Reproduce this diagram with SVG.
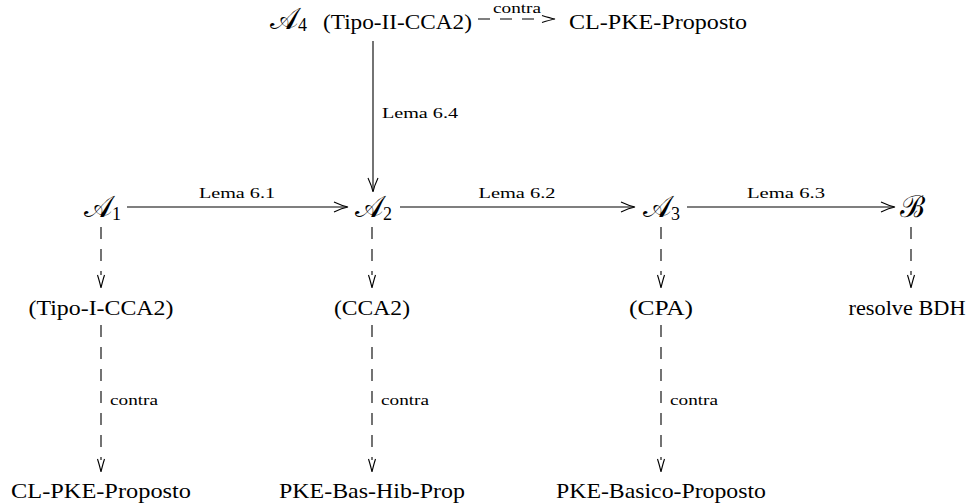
<svg xmlns="http://www.w3.org/2000/svg" width="978" height="504" viewBox="0 0 978 504">
<style>
text{font-family:"Liberation Serif","DejaVu Serif",serif;fill:#000}
.t{font-size:22px}
.m{font-size:30px;font-family:"DejaVu Serif","Liberation Serif",serif}
.sub{font-size:18px;font-family:"Liberation Serif",serif}
.s{font-size:15px}
.l{font-size:15px;text-anchor:middle}
.ln{stroke:#000;stroke-width:1.1;fill:none}
.d{stroke:#000;stroke-width:1.1;fill:none;stroke-dasharray:12 10}
.h{stroke:#000;stroke-width:1.1;fill:none}
.c{text-anchor:middle}
</style>
<defs>
<path id="hs" d="M-14,-5 Q-6,-1.2 0,0 Q-6,1.2 -14,5"/>
<path id="hd" d="M-13,-3.5 Q-5,-1 0,0 Q-5,1 -13,3.5"/>
</defs>
<g id="connectors">
<line class="ln" x1="127" y1="207" x2="347" y2="207"/>
<use href="#hs" class="h" transform="translate(348,207)"/>
<line class="ln" x1="400" y1="207" x2="634" y2="207"/>
<use href="#hs" class="h" transform="translate(635,207)"/>
<line class="ln" x1="687" y1="207" x2="894" y2="207"/>
<use href="#hs" class="h" transform="translate(895,207)"/>
<line class="ln" x1="373" y1="41" x2="373" y2="191"/>
<use href="#hs" class="h" transform="translate(373,192) rotate(90)"/>
<line class="d" x1="478" y1="19" x2="542" y2="19"/>
<use href="#hd" class="h" transform="translate(555,19)"/>
<line class="d" x1="101" y1="227" x2="101" y2="275"/>
<use href="#hd" class="h" transform="translate(101,288) rotate(90)"/>
<line class="d" x1="372" y1="227" x2="372" y2="275"/>
<use href="#hd" class="h" transform="translate(372,288) rotate(90)"/>
<line class="d" x1="661" y1="227" x2="661" y2="275"/>
<use href="#hd" class="h" transform="translate(661,288) rotate(90)"/>
<line class="d" x1="911" y1="227" x2="911" y2="275"/>
<use href="#hd" class="h" transform="translate(911,288) rotate(90)"/>
<line class="d" x1="101" y1="325" x2="101" y2="460"/>
<use href="#hd" class="h" transform="translate(101,472) rotate(90)"/>
<line class="d" x1="372" y1="325" x2="372" y2="460"/>
<use href="#hd" class="h" transform="translate(372,472) rotate(90)"/>
<line class="d" x1="661" y1="325" x2="661" y2="460"/>
<use href="#hd" class="h" transform="translate(661,472) rotate(90)"/>
<text class="l" x="237" y="198" textLength="76" lengthAdjust="spacingAndGlyphs">Lema 6.1</text>
<text class="l" x="517" y="198" textLength="77" lengthAdjust="spacingAndGlyphs">Lema 6.2</text>
<text class="l" x="786" y="198" textLength="78" lengthAdjust="spacingAndGlyphs">Lema 6.3</text>
<text class="s" x="382" y="118" textLength="76" lengthAdjust="spacingAndGlyphs">Lema 6.4</text>
<text class="l" x="517" y="13" textLength="48" lengthAdjust="spacingAndGlyphs">contra</text>
<text class="s" x="110" y="405" textLength="48" lengthAdjust="spacingAndGlyphs">contra</text>
<text class="s" x="381" y="405" textLength="48" lengthAdjust="spacingAndGlyphs">contra</text>
<text class="s" x="670" y="405" textLength="48" lengthAdjust="spacingAndGlyphs">contra</text>
</g>
<g id="A4">
<text class="m" x="270" y="29">𝒜<tspan class="sub" dy="2">4</tspan></text>
<text class="t" x="323" y="29" textLength="149" lengthAdjust="spacingAndGlyphs">(Tipo-II-CCA2)</text>
</g>
<g id="CLPKE-top"><text class="t" x="569" y="29" textLength="178" lengthAdjust="spacingAndGlyphs">CL-PKE-Proposto</text></g>
<g id="A1"><text class="m" x="84" y="217">𝒜<tspan class="sub" dy="3">1</tspan></text></g>
<g id="A2"><text class="m" x="355" y="217">𝒜<tspan class="sub" dy="3">2</tspan></text></g>
<g id="A3"><text class="m" x="643" y="217">𝒜<tspan class="sub" dy="3">3</tspan></text></g>
<g id="B"><text class="m" x="900" y="217">ℬ</text></g>
<g id="TipoI"><text class="t c" x="101" y="315" textLength="145" lengthAdjust="spacingAndGlyphs">(Tipo-I-CCA2)</text></g>
<g id="CCA2"><text class="t c" x="372" y="315" textLength="76" lengthAdjust="spacingAndGlyphs">(CCA2)</text></g>
<g id="CPA"><text class="t c" x="661" y="315" textLength="64" lengthAdjust="spacingAndGlyphs">(CPA)</text></g>
<g id="BDH"><text class="t c" x="907" y="315" textLength="117" lengthAdjust="spacingAndGlyphs">resolve BDH</text></g>
<g id="CLPKE-bot"><text class="t c" x="101" y="498" textLength="180" lengthAdjust="spacingAndGlyphs">CL-PKE-Proposto</text></g>
<g id="PKEBHP"><text class="t c" x="372" y="498" textLength="186" lengthAdjust="spacingAndGlyphs">PKE-Bas-Hib-Prop</text></g>
<g id="PKEBP"><text class="t c" x="661" y="498" textLength="210" lengthAdjust="spacingAndGlyphs">PKE-Basico-Proposto</text></g>
</svg>
